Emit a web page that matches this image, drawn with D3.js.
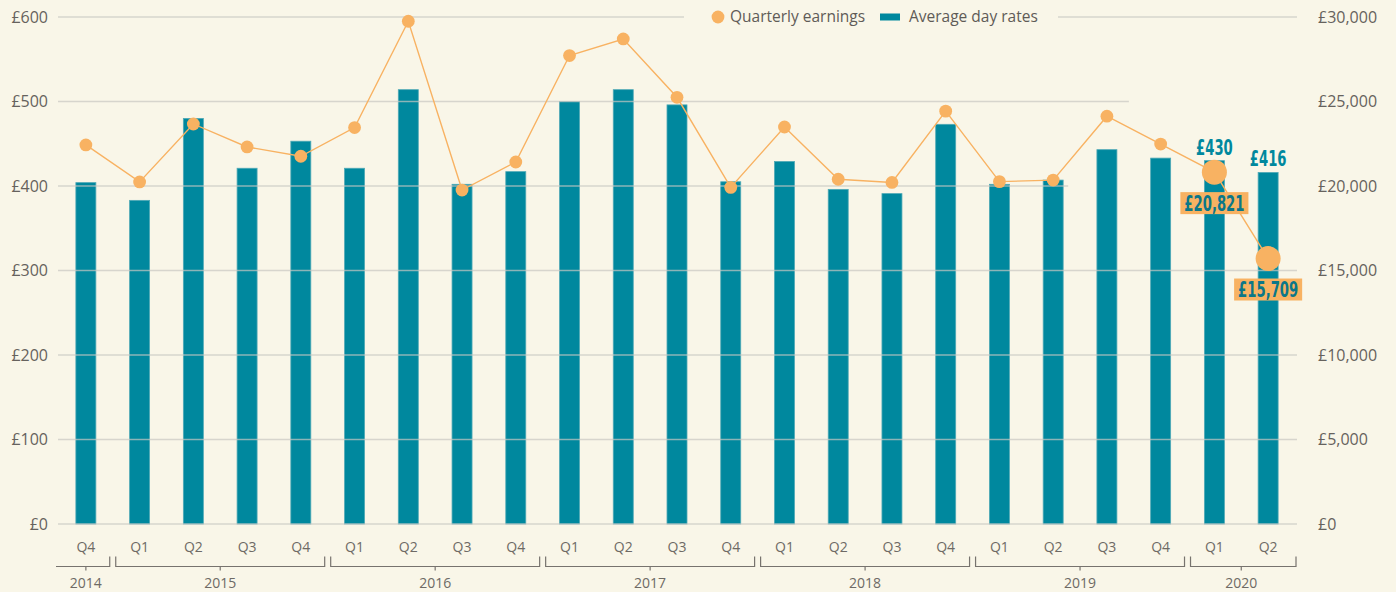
<!DOCTYPE html>
<html>
<head>
<meta charset="utf-8">
<script src="https://cdn.jsdelivr.net/npm/d3@7"></script>
<style>
  html, body { margin: 0; padding: 0; background: #f9f6e8; }
  #chart-container { width: 1396px; height: 592px; }
  .axis-label { font-family: "Open Sans", "Noto Sans", sans-serif; font-size: 16px; fill: #66625d; }
  .tick-label { font-family: "Open Sans", "Noto Sans", sans-serif; font-size: 14px; fill: #6e6a65; }
  .legend-label { font-family: "Open Sans", "Noto Sans", sans-serif; font-size: 15.5px; fill: #5f5b57; }
  .anno { font-family: "DejaVu Sans", sans-serif; font-weight: bold; font-size: 20px; }
</style>
</head>
<body>
<div id="chart-container"></div>
<script>

// Data.
const periods = ["2014 Q4",
  "2015 Q1", "2015 Q2", "2015 Q3", "2015 Q4",
  "2016 Q1", "2016 Q2", "2016 Q3", "2016 Q4",
  "2017 Q1", "2017 Q2", "2017 Q3", "2017 Q4",
  "2018 Q1", "2018 Q2", "2018 Q3", "2018 Q4",
  "2019 Q1", "2019 Q2", "2019 Q3", "2019 Q4",
  "2020 Q1", "2020 Q2"];
const dayRates = [404, 383, 480, 421, 453, 421, 514, 402, 417, 500, 514, 496, 405,
  429, 396, 391, 473, 402, 407, 443, 433, 430, 416];
const earnings = [22430, 20240, 23670, 22310, 21760, 23460, 29750, 19760, 21420,
  27720, 28700, 25250, 19920, 23490, 20400, 20210, 24430, 20260, 20350, 24130,
  22480, 20821, 15709];
const leftTicks = [0, 100, 200, 300, 400, 500, 600];
const rightTicks = [0, 5000, 10000, 15000, 20000, 25000, 30000];
const highlighted = ["2020 Q1", "2020 Q2"];

// Colours.
const bg = "#f9f6e8", teal = "#00889e", orange = "#f8b262", grey = "#c9c8c2";

// Sizing.
const fWidth = 1396, fHeight = 592;
const gridLeft = 58, gridRight = 1297;
const yTop = 17, yBottom = 524;
const squeeze = 0.66; // horizontal squeeze for the condensed annotation labels

const data = periods.map((p, i) => ({
  period: p, year: p.split(" ")[0], quarter: p.split(" ")[1],
  rate: dayRates[i], earn: earnings[i]
}));

const svg = d3.select("#chart-container").append("svg")
  .attr("width", fWidth)
  .attr("height", fHeight);

svg.append("rect").attr("width", fWidth).attr("height", fHeight).attr("fill", bg);

// Scales.
const xScale = d3.scaleBand()
  .domain(periods)
  .range([59, 1295])
  .paddingInner(0.628)
  .paddingOuter(0.314);
const bw = xScale.bandwidth();
const step = xScale.step();
const cx = p => xScale(p) + bw / 2;

const yScale = d3.scaleLinear().domain([0, 600]).range([yBottom, yTop]);
const yRight = d3.scaleLinear().domain([0, 30000]).range([yBottom, yTop]);

// Bars.
svg.append("g").attr("id", "bars")
  .selectAll("rect")
  .data(data)
  .enter()
  .append("rect")
    .attr("x", d => xScale(d.period))
    .attr("y", d => yScale(d.rate))
    .attr("width", bw)
    .attr("height", d => yScale(0) - yScale(d.rate))
    .attr("fill", teal)
    .attr("stroke", "#4fa9b6")
    .attr("stroke-width", 0.8);

// Gridlines (drawn over the bars, semi-transparent).
// Some lines stop short where the annotations sit.
const gridStop = {
  500: cx("2019 Q3") + 22,
  400: cx("2019 Q2") + 15
};
svg.append("g").attr("id", "grid")
  .selectAll("line")
  .data(leftTicks)
  .enter()
  .append("line")
    .attr("x1", gridLeft)
    .attr("x2", d => gridStop[d] || gridRight)
    .attr("y1", d => yScale(d))
    .attr("y2", d => yScale(d))
    .attr("stroke", grey)
    .attr("stroke-opacity", 0.7)
    .attr("stroke-width", 1.3);

// Left axis labels.
svg.append("g").selectAll("text")
  .data(leftTicks)
  .enter()
  .append("text")
    .attr("class", "axis-label")
    .attr("x", 48)
    .attr("y", d => yScale(d))
    .attr("dy", "0.36em")
    .attr("text-anchor", "end")
    .text(d => "£" + d);

// Right axis labels.
svg.append("g").selectAll("text")
  .data(rightTicks)
  .enter()
  .append("text")
    .attr("class", "axis-label")
    .attr("x", 1318)
    .attr("y", d => yRight(d))
    .attr("dy", "0.36em")
    .text(d => "£" + d3.format(",")(d));

// Earnings line.
const pathGen = d3.line()
  .x(d => cx(d.period))
  .y(d => yRight(d.earn));

svg.append("path")
  .attr("d", pathGen(data))
  .attr("fill", "none")
  .attr("stroke", orange)
  .attr("stroke-width", 1.4);

svg.append("g").attr("id", "dots")
  .selectAll("circle")
  .data(data)
  .enter()
  .append("circle")
    .attr("cx", d => cx(d.period))
    .attr("cy", d => yRight(d.earn))
    .attr("r", d => highlighted.includes(d.period) ? 12.5 : 6.4)
    .attr("fill", orange);

// Annotations for the latest quarters.
const anno = svg.append("g").attr("id", "annotations");
data.filter(d => highlighted.includes(d.period)).forEach(d => {
  const x = cx(d.period);
  anno.append("text")
    .attr("class", "anno")
    .attr("transform", `translate(${ x } ${ yScale(d.rate) - 6 }) scale(${ squeeze } 1.05)`)
    .attr("text-anchor", "middle")
    .attr("fill", teal)
    .text("£" + d.rate);

  const yb = yRight(d.earn) + 20;
  const label = anno.append("g");
  const t = label.append("text")
    .attr("class", "anno")
    .attr("transform", `translate(${ x } ${ yb + 18.5 }) scale(${ squeeze } 1.05)`)
    .attr("text-anchor", "middle")
    .attr("fill", "#0b7789")
    .text("£" + d3.format(",")(d.earn));
  const w = t.node().getBBox().width * squeeze;
  label.insert("rect", "text")
    .attr("x", x - w / 2 - 4)
    .attr("y", yb)
    .attr("width", w + 8)
    .attr("height", 22)
    .attr("fill", orange);
});

// Legend.
const legend = svg.append("g").attr("id", "legend");
legend.append("rect")
  .attr("x", 684).attr("y", 6).attr("width", 374).attr("height", 22)
  .attr("fill", bg);
legend.append("circle")
  .attr("cx", 718).attr("cy", yTop).attr("r", 6.4)
  .attr("fill", orange);
legend.append("text")
  .attr("class", "legend-label")
  .attr("x", 730).attr("y", yTop).attr("dy", "0.35em")
  .text("Quarterly earnings");
legend.append("rect")
  .attr("x", 880).attr("y", yTop - 3.5).attr("width", 20).attr("height", 7)
  .attr("fill", teal);
legend.append("text")
  .attr("class", "legend-label")
  .attr("x", 909).attr("y", yTop).attr("dy", "0.35em")
  .text("Average day rates");

// Quarter labels.
svg.append("g").selectAll("text")
  .data(data)
  .enter()
  .append("text")
    .attr("class", "tick-label")
    .attr("x", d => cx(d.period))
    .attr("y", 551.5)
    .attr("text-anchor", "middle")
    .text(d => d.quarter);

// Year brackets.
const years = Array.from(new Set(data.map(d => d.year)));
const bracketY = 566.5;
const brackets = svg.append("g").attr("id", "year-brackets")
  .attr("stroke", "#77736e").attr("stroke-width", 1.2).attr("fill", "none");

years.forEach((yr, i) => {
  const ps = data.filter(d => d.year === yr).map(d => d.period);
  const first = cx(ps[0]), last = cx(ps[ps.length - 1]);
  const x0 = i === 0 ? gridLeft - 2 : first - step / 2 + 3;
  const x1 = i === years.length - 1 ? gridRight - 1 : last + step / 2 - 3;
  const mid = d3.mean(ps, p => cx(p));
  let d = i === 0 ? `M${x0},${bracketY}` : `M${x0},${bracketY - 10}V${bracketY}`;
  d += `H${x1}V${bracketY - 10}`;
  brackets.append("path").attr("d", d);
  brackets.append("line")
    .attr("x1", mid).attr("x2", mid)
    .attr("y1", bracketY).attr("y2", bracketY + 4);
  svg.append("text")
    .attr("class", "tick-label")
    .attr("x", mid)
    .attr("y", 588)
    .attr("text-anchor", "middle")
    .text(yr);
});

console.log("Chart drawn.");
</script>
</body>
</html>
